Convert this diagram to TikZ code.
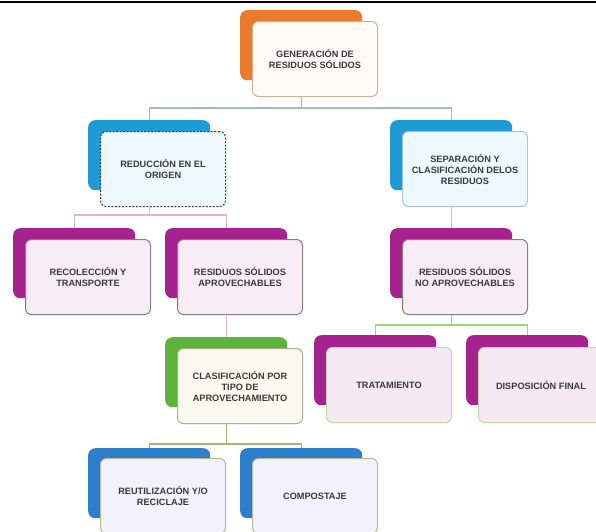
\documentclass[tikz,border=0pt]{standalone}
\usepackage{fontspec}
\setmainfont{Liberation Sans}
\usepackage{tikz}
\usetikzlibrary{positioning}
\definecolor{naranja}{HTML}{EA7A2C}
\definecolor{celeste}{HTML}{1E9AD6}
\definecolor{magenta}{HTML}{A6228F}
\definecolor{verde}{HTML}{5DB43B}
\definecolor{azul}{HTML}{2D7FCB}
\definecolor{textgris}{HTML}{3A3A3A}

\begin{document}
\begin{tikzpicture}[x=1pt, y=-1pt,
	back/.style={fill=#1, rounded corners=7pt, minimum width=122pt, minimum height=70pt, anchor=north west, inner sep=0pt},
	front/.style 2 args={fill=#1, draw=#2, line width=1pt, rounded corners=6pt, minimum width=125pt, minimum height=75pt, inner sep=2pt, align=center, text=textgris, font=\bfseries\fontsize{9.2}{11}\selectfont},
	conn/.style={draw=#1, line width=1.3pt}]
	%Rahmen
	\useasboundingbox[fill=white] (0,0) rectangle (596,531);
	\clip (0,0) rectangle (596,531);
	\draw[line width=1.5pt] (0,2) -- (596,2);
	% hintere Kaesten
	\foreach \n/\x/\y/\c in {gen/240/10/naranja, red/88/120/celeste, sep/390/120/celeste,
		rec/13/228/magenta, apr/165/228/magenta, noapr/390/228/magenta,
		clas/165/337/verde, trat/314/335/magenta, disp/466/335/magenta,
		reut/88/448/azul, comp/240/448/azul}
		\node[back=\c] (\n) at (\x,\y) {};
	% vordere Kaesten
	\node[front={orange!4}{orange!35!gray!60}, below right=11pt and 12pt of gen.north west] (genf) {GENERACIÓN DE\\RESIDUOS SÓLIDOS};
	\node[front={cyan!7}{textgris}, dash pattern=on 2pt off 1.5pt, below right=11pt and 12pt of red.north west] (redf) {REDUCCIÓN EN EL\\ORIGEN};
	\node[front={cyan!7}{cyan!25!gray!60}, below right=11pt and 12pt of sep.north west] (sepf) {SEPARACIÓN Y\\CLASIFICACIÓN DELOS\\RESIDUOS};
	\node[front={magenta!8}{gray}, below right=11pt and 12pt of rec.north west] (recf) {RECOLECCIÓN Y\\TRANSPORTE};
	\node[front={magenta!8}{gray}, below right=11pt and 12pt of apr.north west] (aprf) {RESIDUOS SÓLIDOS\\APROVECHABLES};
	\node[front={magenta!8}{gray}, below right=11pt and 12pt of noapr.north west] (noaprf) {RESIDUOS SÓLIDOS\\NO APROVECHABLES};
	\node[front={olive!4}{olive!35!gray!70}, below right=11pt and 12pt of clas.north west] (clasf) {CLASIFICACIÓN POR\\TIPO DE\\APROVECHAMIENTO};
	\node[front={magenta!10}{green!40!olive!40}, below right=12pt and 12pt of trat.north west] (tratf) {TRATAMIENTO};
	\node[front={magenta!10}{green!40!olive!40}, below right=12pt and 12pt of disp.north west] (dispf) {DISPOSICIÓN FINAL};
	\node[front={blue!5}{olive!40!gray!60}, below right=10pt and 12pt of reut.north west] (reutf) {REUTILIZACIÓN Y/O\\RECICLAJE};
	\node[front={blue!5}{olive!40!gray!60}, below right=10pt and 12pt of comp.north west] (compf) {COMPOSTAJE};
	% Verbindungen
	\draw[conn=cyan!30!gray!70] (gen |- genf.south) -- ++(0,11) coordinate (j1);
	\draw[conn=cyan!30!gray!70] (red.north) |- (j1) -| (sep.north);
	\draw[conn=magenta!35] (red |- redf.south) -- ++(0,8) coordinate (j2);
	\draw[conn=magenta!35] (rec.north) |- (j2) -| (apr.north);
	\draw[conn=magenta!35] (sep |- sepf.south) -- (noapr.north);
	\draw[conn=magenta!35] (apr |- aprf.south) -- (clas.north);
	\draw[conn=green!40!olive!55] (noapr |- noaprf.south) -- ++(0,10) coordinate (j3);
	\draw[conn=green!40!olive!55] (trat.north) |- (j3) -| (disp.north);
	\draw[conn=olive!45!gray!70] (clas |- clasf.south) -- ++(0,20) coordinate (j4);
	\draw[conn=olive!45!gray!70] (reut.north) |- (j4) -| (comp.north);
\end{tikzpicture}
\end{document}
